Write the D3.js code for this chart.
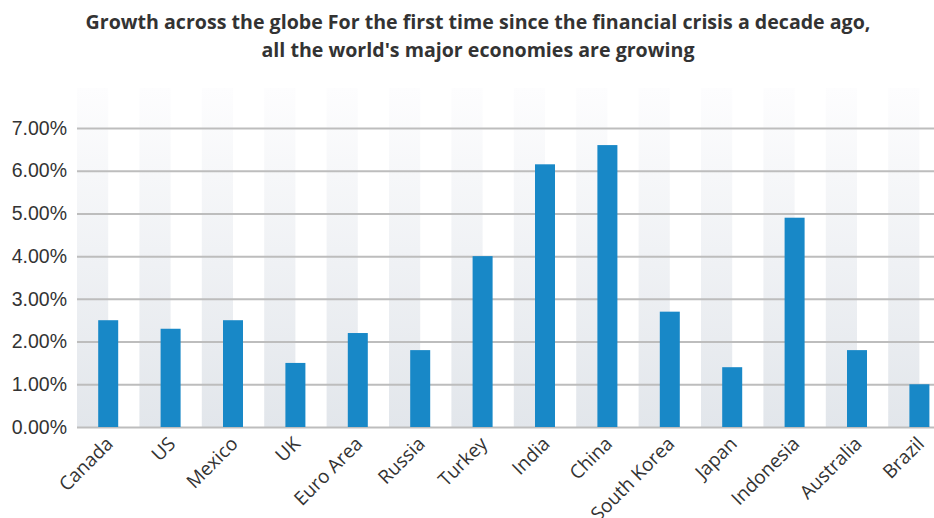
<!DOCTYPE html>
<html>
<head>
<meta charset="utf-8">
<script src="https://cdn.jsdelivr.net/npm/d3@7"></script>
<style>
  body { margin: 0; background: #fff; }
  svg { display: block; font-family: "Open Sans", "Noto Sans", sans-serif; }
</style>
</head>
<body>
<div id="chart"></div>
<script>
// data
const countries = ["Canada", "US", "Mexico", "UK", "Euro Area", "Russia", "Turkey",
  "India", "China", "South Korea", "Japan", "Indonesia", "Australia", "Brazil"];
const growth = [2.5, 2.3, 2.5, 1.5, 2.2, 1.8, 4.0, 6.15, 6.6, 2.7, 1.4, 4.9, 1.8, 1.0];
const yTicks = [0, 1, 2, 3, 4, 5, 6, 7];
const titleLines = [
  "Growth across the globe For the first time since the financial crisis a decade ago,",
  "all the world's major economies are growing"
];

const width = 934;
const height = 518;
const margin = { top: 88, left: 77, bottom: 91 };
const bandWidth = 62.4;

const svg = d3.select("#chart")
  .append("svg")
  .attr("width", width)
  .attr("height", height);

const defs = svg.append("defs");
const grad = defs.append("linearGradient")
  .attr("id", "stripeGrad")
  .attr("x1", 0).attr("y1", 0).attr("x2", 0).attr("y2", 1);
grad.append("stop").attr("offset", "0%").attr("stop-color", "#fdfdfe");
grad.append("stop").attr("offset", "100%").attr("stop-color", "#e2e6eb");

// scales
const scaleX = d3.scaleBand()
  .domain(countries)
  .range([margin.left, margin.left + bandWidth * countries.length])
  .padding(0);
const scaleY = d3.scaleLinear()
  .domain([0, 7])
  .range([427, 128]);

// title
svg.append("g")
  .selectAll("text")
  .data(titleLines)
  .join("text")
  .attr("x", 478)
  .attr("y", (d, i) => 29 + i * 28)
  .attr("text-anchor", "middle")
  .attr("font-size", "19.6px")
  .attr("font-weight", "bold")
  .attr("fill", "#333")
  .text((d) => d);

// stripes
svg.append("g")
  .selectAll("rect")
  .data(countries)
  .join("rect")
  .attr("x", (d) => scaleX(d))
  .attr("y", margin.top)
  .attr("width", scaleX.bandwidth() / 2)
  .attr("height", scaleY(0) - margin.top)
  .attr("fill", "url(#stripeGrad)");

// gridlines + y labels
const axisY = svg.append("g")
  .attr("transform", `translate(${margin.left}, 0)`)
  .call(d3.axisLeft(scaleY)
    .tickValues(yTicks)
    .tickSize(-(width - margin.left))
    .tickPadding(10)
    .tickFormat((d) => d3.format(".2f")(d) + "%"))
  .call((g) => g.select(".domain").remove());
axisY.selectAll(".tick line")
  .attr("stroke", "#bdbdbd")
  .attr("stroke-width", 2);
axisY.selectAll(".tick text")
  .attr("font-size", "19.5px")
  .attr("fill", "#333");

// bars
svg.append("g")
  .selectAll("rect")
  .data(countries)
  .join("rect")
  .attr("x", (d) => scaleX(d) + scaleX.bandwidth() / 2 - 10)
  .attr("y", (d, i) => scaleY(growth[i]))
  .attr("width", 20)
  .attr("height", (d, i) => scaleY(0) - scaleY(growth[i]))
  .attr("fill", "#1888c7");

// x labels
svg.append("g")
  .selectAll("text")
  .data(countries)
  .join("text")
  .attr("transform", (d) =>
    `translate(${scaleX(d) + scaleX.bandwidth() / 2 + 6}, 445) rotate(-45)`)
  .attr("text-anchor", "end")
  .attr("font-size", "19px")
  .attr("fill", "#333")
  .text((d) => d);
</script>
</body>
</html>
